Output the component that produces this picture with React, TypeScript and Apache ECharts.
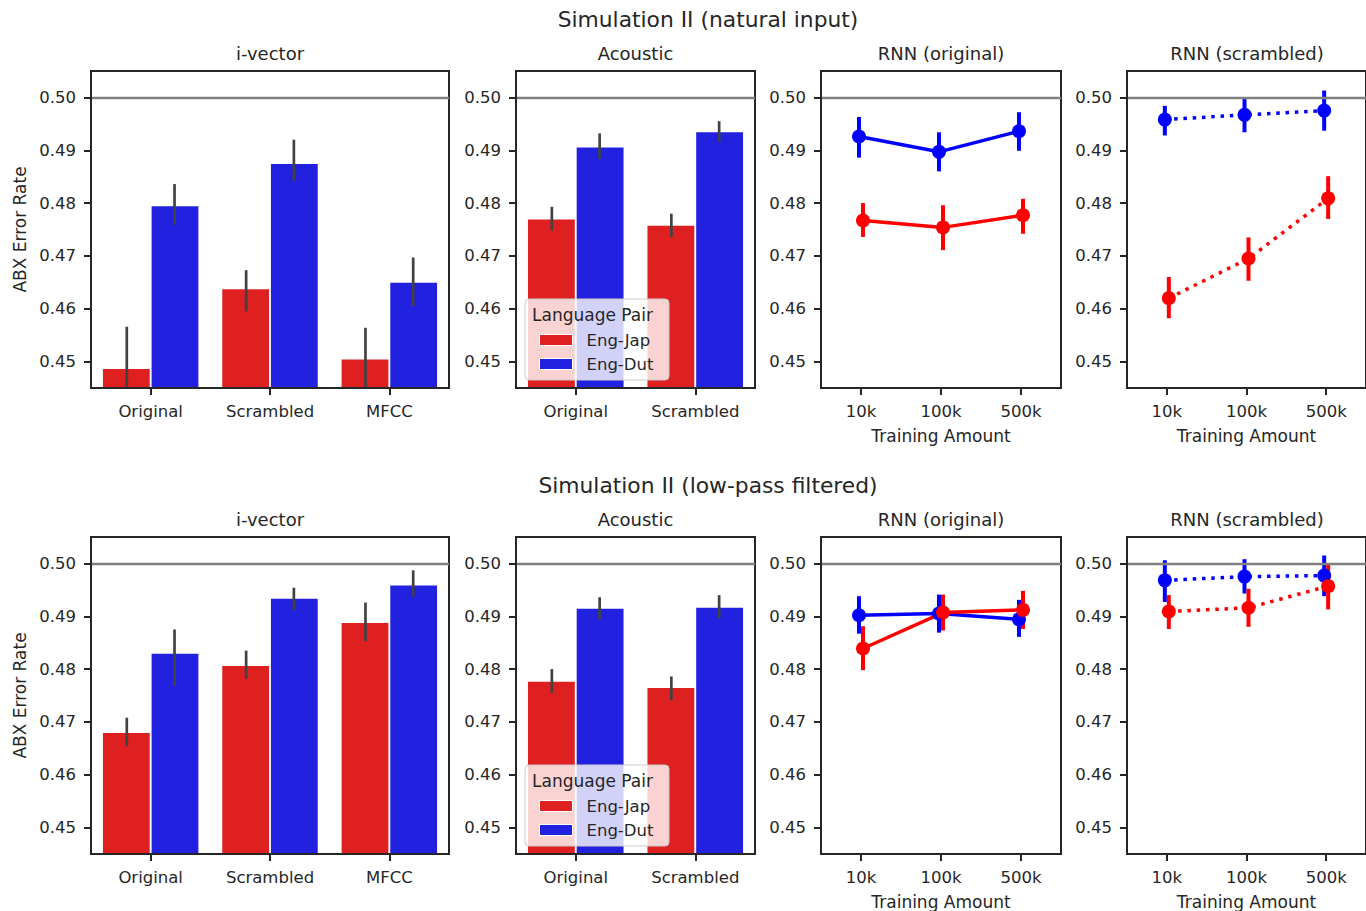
import React, { useEffect, useRef } from 'react';
import * as echarts from 'echarts';

// ---------- categories / tick labels ----------
const ivecCats = ['Original', 'Scrambled', 'MFCC'];
const acouCats = ['Original', 'Scrambled'];
const amounts = ['10k', '100k', '500k'];
const yTicks = [0.45, 0.46, 0.47, 0.48, 0.49, 0.5];
const xTickIdx = [0, 1, 2];
const hueNames = ['Eng-Jap', 'Eng-Dut'];
const rowTitles = ['Simulation II (natural input)', 'Simulation II (low-pass filtered)'];
const panelTitles = ['i-vector', 'Acoustic', 'RNN (original)', 'RNN (scrambled)'];
const Y_MIN = 0.445;
const Y_MAX = 0.505;
const CHANCE = 0.5;

// ---------- Row 1: natural input ----------
const natIvecJap = [0.4486, 0.4637, 0.4504];
const natIvecJapCI = [[0.4405, 0.4566], [0.4595, 0.4673], [0.4443, 0.4564]];
const natIvecDut = [0.4794, 0.4874, 0.4649];
const natIvecDutCI = [[0.4759, 0.4836], [0.4842, 0.492], [0.4605, 0.4697]];
const natAcouJap = [0.4769, 0.4757];
const natAcouJapCI = [[0.4748, 0.4793], [0.4736, 0.478]];
const natAcouDut = [0.4905, 0.4934];
const natAcouDutCI = [[0.4884, 0.4932], [0.4916, 0.4955]];
const natRnnOJap = [0.4767, 0.4754, 0.4777];
const natRnnOJapCI = [[0.4736, 0.48], [0.4711, 0.4796], [0.4742, 0.4808]];
const natRnnODut = [0.4926, 0.4897, 0.4936];
const natRnnODutCI = [[0.4886, 0.4963], [0.486, 0.4934], [0.4899, 0.4972]];
const natRnnSJap = [0.462, 0.4695, 0.4809];
const natRnnSJapCI = [[0.4582, 0.466], [0.4653, 0.4735], [0.477, 0.4851]];
const natRnnSDut = [0.4958, 0.4967, 0.4975];
const natRnnSDutCI = [[0.4928, 0.4984], [0.4934, 0.4997], [0.4937, 0.5013]];

// ---------- Row 2: low-pass filtered ----------
const lpIvecJap = [0.4679, 0.4806, 0.4887];
const lpIvecJapCI = [[0.4654, 0.4708], [0.4782, 0.4835], [0.4853, 0.4926]];
const lpIvecDut = [0.4829, 0.4933, 0.4958];
const lpIvecDutCI = [[0.4768, 0.4875], [0.4911, 0.4954], [0.4937, 0.4987]];
const lpAcouJap = [0.4776, 0.4764];
const lpAcouJapCI = [[0.4755, 0.48], [0.4741, 0.4786]];
const lpAcouDut = [0.4914, 0.4916];
const lpAcouDutCI = [[0.4894, 0.4936], [0.4896, 0.494]];
const lpRnnOJap = [0.4839, 0.4907, 0.4912];
const lpRnnOJapCI = [[0.4798, 0.4881], [0.4873, 0.4941], [0.4876, 0.4948]];
const lpRnnODut = [0.4902, 0.4905, 0.4894];
const lpRnnODutCI = [[0.4867, 0.4938], [0.4869, 0.4941], [0.4861, 0.4931]];
const lpRnnSJap = [0.4909, 0.4916, 0.4957];
const lpRnnSJapCI = [[0.4876, 0.494], [0.488, 0.4952], [0.4913, 0.4997]];
const lpRnnSDut = [0.4968, 0.4975, 0.4977];
const lpRnnSDutCI = [[0.4927, 0.5006], [0.4943, 0.5008], [0.4938, 0.5015]];

// ---------- style / layout ----------
const FONT = 'DejaVu Sans';
const INK = '#262626';
const BAR_RED = '#df2020';
const BAR_BLUE = '#2121df';
const PT_RED = '#ff0000';
const PT_BLUE = '#0000ff';
const ERR_GRAY = '#424242';
const ROW_TOP = [71, 537];
const PANEL_H = 317;
const PANEL_LEFT = [91, 516, 821, 1127];
const PANEL_W = [358, 239, 240, 240];
const DODGE = 0.025;

type Row = {
  ivec: [number[], number[][], number[], number[][]];
  acou: [number[], number[][], number[], number[][]];
  rnnO: [number[], number[][], number[], number[][]];
  rnnS: [number[], number[][], number[], number[][]];
};

const rows: Row[] = [
  {
    ivec: [natIvecJap, natIvecJapCI, natIvecDut, natIvecDutCI],
    acou: [natAcouJap, natAcouJapCI, natAcouDut, natAcouDutCI],
    rnnO: [natRnnOJap, natRnnOJapCI, natRnnODut, natRnnODutCI],
    rnnS: [natRnnSJap, natRnnSJapCI, natRnnSDut, natRnnSDutCI],
  },
  {
    ivec: [lpIvecJap, lpIvecJapCI, lpIvecDut, lpIvecDutCI],
    acou: [lpAcouJap, lpAcouJapCI, lpAcouDut, lpAcouDutCI],
    rnnO: [lpRnnOJap, lpRnnOJapCI, lpRnnODut, lpRnnODutCI],
    rnnS: [lpRnnSJap, lpRnnSJapCI, lpRnnSDut, lpRnnSDutCI],
  },
];

const chanceLine = {
  silent: true,
  symbol: 'none',
  label: { show: false },
  lineStyle: { color: '#808080', width: 2.3, type: 'solid' },
  data: [{ yAxis: CHANCE }],
};

function errSeries(g: number, ci: number[][], color: string, width: number, off: number, isCat: boolean) {
  return {
    type: 'custom',
    xAxisIndex: g,
    yAxisIndex: g,
    clip: true,
    silent: true,
    z: 3,
    encode: { x: 0, y: [1, 2] },
    data: ci.map((c, i) => [i, c[0], c[1]]),
    renderItem: (params: any, api: any) => {
      const x = api.value(0);
      const lo = api.value(1);
      const hi = api.value(2);
      let p1: number[];
      let p2: number[];
      if (isCat) {
        const band = api.size([1, 0])[0];
        p1 = api.coord([x, lo]);
        p2 = api.coord([x, hi]);
        p1 = [p1[0] + off * band, p1[1]];
        p2 = [p2[0] + off * band, p2[1]];
      } else {
        p1 = api.coord([x + off, lo]);
        p2 = api.coord([x + off, hi]);
      }
      return {
        type: 'line',
        shape: { x1: p1[0], y1: p1[1], x2: p2[0], y2: p2[1] },
        style: { stroke: color, lineWidth: width, lineCap: 'butt' },
      };
    },
  };
}

function buildOption() {
  const grid: any[] = [];
  const xAxis: any[] = [];
  const yAxis: any[] = [];
  const series: any[] = [];
  const graphic: any[] = [];
  const legend: any[] = [];

  const tickStyle = { color: INK, width: 2 };
  const labelBase = { fontFamily: FONT, fontSize: 16.5, color: INK };

  rows.forEach((row, r) => {
    const panels = [row.ivec, row.acou, row.rnnO, row.rnnS];
    panels.forEach((pd, p) => {
      const g = r * 4 + p;
      grid.push({
        left: PANEL_LEFT[p],
        top: ROW_TOP[r],
        width: PANEL_W[p],
        height: PANEL_H,
        show: true,
        borderColor: INK,
        borderWidth: 2,
        backgroundColor: 'transparent',
        containLabel: false,
      });
      yAxis.push({
        type: 'value',
        gridIndex: g,
        min: Y_MIN,
        max: Y_MAX,
        z: 5,
        splitLine: { show: false },
        axisLine: { show: true, onZero: false, lineStyle: tickStyle },
        axisTick: { show: true, length: 7, lineStyle: tickStyle, customValues: yTicks },
        axisLabel: {
          ...labelBase,
          margin: 15,
          customValues: yTicks,
          formatter: (v: number) => v.toFixed(2),
        },
        name: p === 0 ? 'ABX Error Rate' : '',
        nameLocation: 'middle',
        nameGap: 63,
        nameTextStyle: { fontFamily: FONT, fontSize: 17, color: INK },
      });
      if (p < 2) {
        const cats = p === 0 ? ivecCats : acouCats;
        xAxis.push({
          type: 'category',
          gridIndex: g,
          data: cats,
          z: 5,
          axisLine: { show: true, onZero: false, lineStyle: tickStyle },
          axisTick: { show: true, alignWithLabel: true, length: 7, lineStyle: tickStyle },
          axisLabel: { ...labelBase, margin: 15, interval: 0 },
          splitLine: { show: false },
        });
        const [jap, japCI, dut, dutCI] = pd;
        series.push({
          type: 'bar',
          name: hueNames[0],
          xAxisIndex: g,
          yAxisIndex: g,
          data: jap,
          itemStyle: { color: BAR_RED },
          barGap: '4%',
          barCategoryGap: '20%',
          silent: true,
          markLine: chanceLine,
        });
        series.push({
          type: 'bar',
          name: hueNames[1],
          xAxisIndex: g,
          yAxisIndex: g,
          data: dut,
          itemStyle: { color: BAR_BLUE },
          barGap: '4%',
          barCategoryGap: '20%',
          silent: true,
        });
        series.push(errSeries(g, japCI, ERR_GRAY, 2.7, -0.2, true));
        series.push(errSeries(g, dutCI, ERR_GRAY, 2.7, 0.2, true));
      } else {
        const dotted = p === 3;
        xAxis.push({
          type: 'value',
          gridIndex: g,
          min: -0.5,
          max: 2.5,
          z: 5,
          axisLine: { show: true, onZero: false, lineStyle: tickStyle },
          axisTick: { show: true, length: 7, lineStyle: tickStyle, customValues: xTickIdx },
          axisLabel: {
            ...labelBase,
            margin: 15,
            customValues: xTickIdx,
            formatter: (v: number) => amounts[Math.round(v)] ?? '',
          },
          splitLine: { show: false },
          name: 'Training Amount',
          nameLocation: 'middle',
          nameGap: 39,
          nameTextStyle: { fontFamily: FONT, fontSize: 17, color: INK },
        });
        const [jap, japCI, dut, dutCI] = pd;
        const lineType = dotted ? [3.5, 5.8] : 'solid';
        // Eng-Dut (blue) drawn first, dodged left
        series.push({ ...errSeries(g, dutCI, PT_BLUE, 4, -DODGE, false), markLine: chanceLine });
        series.push({
          type: 'line',
          name: hueNames[1],
          xAxisIndex: g,
          yAxisIndex: g,
          z: 3,
          data: dut.map((v, i) => [i - DODGE, v]),
          symbol: 'circle',
          symbolSize: 14,
          showSymbol: true,
          silent: true,
          itemStyle: { color: PT_BLUE },
          lineStyle: { color: PT_BLUE, width: 3.5, type: lineType, cap: 'butt' },
        });
        series.push(errSeries(g, japCI, PT_RED, 4, DODGE, false));
        series.push({
          type: 'line',
          name: hueNames[0],
          xAxisIndex: g,
          yAxisIndex: g,
          z: 3,
          data: jap.map((v, i) => [i + DODGE, v]),
          symbol: 'circle',
          symbolSize: 14,
          showSymbol: true,
          silent: true,
          itemStyle: { color: PT_RED },
          lineStyle: { color: PT_RED, width: 3.5, type: lineType, cap: 'butt' },
        });
      }
      // panel title
      graphic.push({
        type: 'text',
        x: PANEL_LEFT[p] + PANEL_W[p] / 2,
        y: ROW_TOP[r] - 18,
        style: {
          text: panelTitles[p],
          fontFamily: FONT,
          fontSize: 18,
          fill: INK,
          textAlign: 'center',
          textVerticalAlign: 'middle',
        },
      });
    });

    // row title
    graphic.push({
      type: 'text',
      x: 708,
      y: ROW_TOP[r] - 52,
      style: {
        text: rowTitles[r],
        fontFamily: FONT,
        fontSize: 21.8,
        fill: INK,
        textAlign: 'center',
        textVerticalAlign: 'middle',
      },
    });

    // legend box + title in the Acoustic panel
    const off = ROW_TOP[r] - ROW_TOP[0];
    graphic.push({
      type: 'rect',
      z: 20,
      shape: { x: 525, y: 299 + off, width: 144, height: 81, r: 4 },
      style: { fill: 'rgba(255,255,255,0.8)', stroke: '#cccccc', lineWidth: 1 },
    });
    graphic.push({
      type: 'text',
      z: 21,
      x: 532,
      y: 315 + off,
      style: {
        text: 'Language Pair',
        fontFamily: FONT,
        fontSize: 17,
        fill: INK,
        textAlign: 'left',
        textVerticalAlign: 'middle',
      },
    });
    legend.push({
      show: true,
      data: hueNames,
      orient: 'vertical',
      left: 539,
      top: 330 + off,
      padding: 0,
      itemWidth: 33,
      itemHeight: 11,
      itemGap: 4,
      icon: 'rect',
      z: 30,
      selectedMode: false,
      itemStyle: { borderColor: '#ffffff', borderWidth: 1 },
      textStyle: {
        fontFamily: FONT,
        fontSize: 16.5,
        color: INK,
        lineHeight: 20,
        padding: [0, 0, 0, 9],
      },
    });
  });

  return {
    animation: false,
    backgroundColor: '#ffffff',
    textStyle: { fontFamily: FONT, color: INK },
    grid,
    xAxis,
    yAxis,
    series,
    legend,
    graphic: { elements: graphic },
  };
}

export default function App() {
  const ref = useRef<HTMLDivElement>(null);
  useEffect(() => {
    document.body.style.margin = '0';
    if (!ref.current) return;
    const chart = echarts.init(ref.current, undefined, { renderer: 'svg' });
    chart.setOption(buildOption() as any);
    return () => chart.dispose();
  }, []);
  return <div ref={ref} style={{ width: 1366, height: 911 }} />;
}
